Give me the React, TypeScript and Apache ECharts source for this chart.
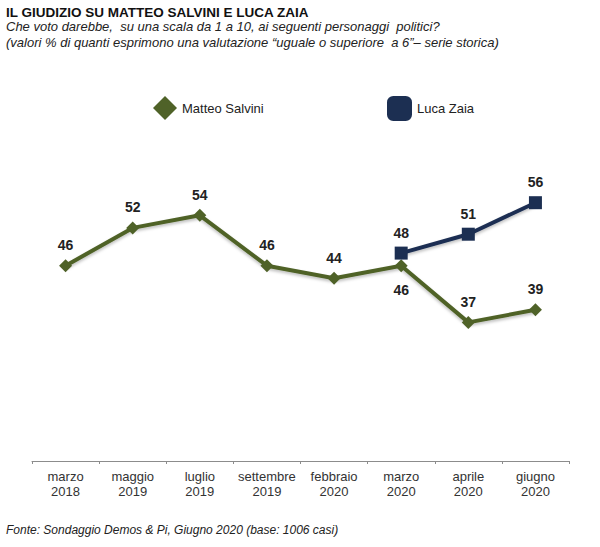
import React, { useEffect, useRef } from "react";
import * as echarts from "echarts";

const categories = [
  "marzo\n2018",
  "maggio\n2019",
  "luglio\n2019",
  "settembre\n2019",
  "febbraio\n2020",
  "marzo\n2020",
  "aprile\n2020",
  "giugno\n2020",
];
const salvini = [46, 52, 54, 46, 44, 46, 37, 39];
const zaia = [null, null, null, null, null, 48, 51, 56];
const salviniBelow = [5];

const FONT = "'Liberation Sans', Arial, sans-serif";
const GREEN = "#4f6228";
const NAVY = "#1c2f52";

export default function App() {
  const ref = useRef<HTMLDivElement>(null);
  useEffect(() => {
    document.body.style.margin = "0";
    const chart = echarts.init(ref.current!, null, { renderer: "svg" });
    const labelBase = {
      show: true,
      fontFamily: FONT,
      fontSize: 14,
      fontWeight: "bold" as const,
      color: "#222",
    };
    chart.setOption({
      animation: false,
      backgroundColor: "#ffffff",
      textStyle: { fontFamily: FONT },
      grid: { left: 32, right: 31, top: 177.5, bottom: 86 },
      legend: [
        {
          left: 148,
          top: 91,
          icon: "diamond",
          itemWidth: 24,
          itemHeight: 24,
          data: ["Matteo Salvini"],
          textStyle: { fontSize: 13, color: "#222", fontFamily: FONT },
        },
        {
          left: 382,
          top: 91,
          icon: "roundRect",
          itemWidth: 25,
          itemHeight: 25,
          data: ["Luca Zaia"],
          textStyle: { fontSize: 13, color: "#222", fontFamily: FONT },
        },
      ],
      xAxis: {
        type: "category",
        data: categories,
        boundaryGap: true,
        axisLine: { lineStyle: { color: "#8c8c8c", width: 1 } },
        axisTick: { show: true, length: 3, lineStyle: { color: "#8c8c8c" } },
        axisLabel: {
          interval: 0,
          margin: 8,
          fontSize: 13,
          lineHeight: 15,
          color: "#333",
          fontFamily: FONT,
        },
      },
      yAxis: { type: "value", min: 15, max: 60, show: false },
      graphic: [
        {
          type: "text",
          left: 6,
          top: 5,
          style: {
            text: "IL GIUDIZIO SU MATTEO SALVINI E LUCA ZAIA",
            font: `bold 13.5px ${FONT}`,
            fill: "#111",
          },
        },
        {
          type: "text",
          left: 6,
          top: 20,
          style: {
            text: "Che voto darebbe,  su una scala da 1 a 10, ai seguenti personaggi  politici?",
            font: `italic 13px ${FONT}`,
            fill: "#222",
          },
        },
        {
          type: "text",
          left: 6,
          top: 36,
          style: {
            text: "(valori % di quanti esprimono una valutazione \u201cuguale o superiore  a 6\u201d\u2013 serie storica)",
            font: `italic 13px ${FONT}`,
            fill: "#222",
          },
        },
        {
          type: "text",
          left: 6,
          top: 524,
          style: {
            text: "Fonte: Sondaggio Demos & Pi, Giugno 2020 (base: 1006 casi)",
            font: `italic 12px ${FONT}`,
            fill: "#222",
          },
        },
      ],
      series: [
        {
          name: "Matteo Salvini",
          type: "line",
          data: salvini.map((v, i) =>
            salviniBelow.includes(i)
              ? { value: v, label: { position: "bottom", distance: 11 } }
              : v
          ),
          symbol: "diamond",
          symbolSize: 13,
          itemStyle: { color: GREEN },
          lineStyle: {
            color: GREEN,
            width: 4,
            shadowColor: "rgba(0,0,0,0.25)",
            shadowBlur: 3,
            shadowOffsetY: 2,
          },
          label: { ...labelBase, position: "top", distance: 7 },
          z: 2,
        },
        {
          name: "Luca Zaia",
          type: "line",
          data: zaia,
          symbol: "rect",
          symbolSize: 13,
          itemStyle: { color: NAVY },
          lineStyle: {
            color: NAVY,
            width: 4,
            shadowColor: "rgba(0,0,0,0.25)",
            shadowBlur: 3,
            shadowOffsetY: 2,
          },
          label: { ...labelBase, position: "top", distance: 7 },
          z: 3,
        },
      ],
    });
    return () => chart.dispose();
  }, []);
  return <div ref={ref} style={{ width: 600, height: 547 }} />;
}
